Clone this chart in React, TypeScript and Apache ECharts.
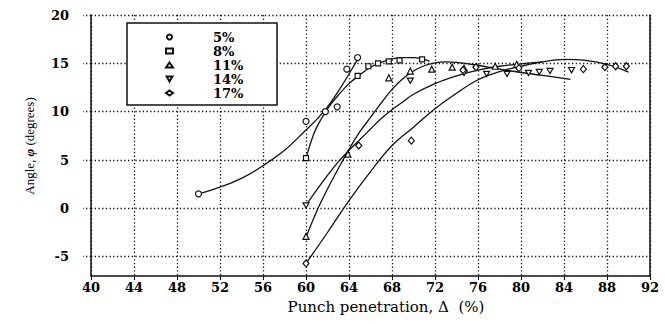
import React, { useEffect, useRef } from "react";
import * as echarts from "echarts";

const seriesNames = ["5%", "8%", "11%", "14%", "17%"];
const yTickValues = [-5, 0, 5, 10, 15, 20];

// measured points
const pts5 = [[50, 1.5], [60, 9.0], [61.8, 10.0], [62.9, 10.5], [63.8, 14.4], [64.8, 15.6]];
const pts8 = [[60, 5.2], [64.8, 13.7], [65.8, 14.7], [66.7, 15.0], [67.7, 15.2], [68.7, 15.3], [70.8, 15.4]];
const pts11 = [[60, -2.9], [63.9, 5.6], [67.7, 13.5], [69.7, 14.2], [71.7, 14.4], [73.6, 14.6], [74.7, 14.5], [77.6, 14.7], [79.6, 14.9]];
const pts14 = [[60, 0.3], [69.7, 13.2], [74.7, 14.0], [76.8, 13.9], [78.7, 13.9], [80.7, 14.0], [81.7, 14.1], [82.7, 14.2], [84.7, 14.3]];
const pts17 = [[60, -5.7], [64.9, 6.5], [69.8, 7.0], [74.6, 14.3], [75.8, 14.6], [79.8, 14.5], [85.8, 14.4], [87.8, 14.6], [88.8, 14.7], [89.8, 14.7]];

// fitted curves
const curve5 = [[50, 1.5], [52, 2.2], [54, 3.1], [56, 4.4], [58, 6.0], [60, 8.1], [61, 9.2], [62, 10.5], [63, 12.1], [64, 13.9], [64.8, 15.4]];
const curve8 = [[60, 5.2], [60.5, 7.0], [61, 8.4], [62, 10.3], [63, 11.7], [64, 12.9], [65, 13.8], [66, 14.6], [67, 15.1], [68, 15.45], [69, 15.6], [70, 15.6], [71, 15.4], [71.5, 15.2]];
const curve11 = [[60, -3.0], [61, -0.3], [62, 2.0], [63, 4.1], [64, 6.1], [65, 7.9], [66, 9.4], [67, 10.9], [68, 12.3], [69, 13.4], [70, 14.2], [71, 14.75], [72, 15.05], [73, 15.15], [74, 15.1], [76, 14.8], [78, 14.4], [80, 14.05], [82, 13.75], [84.6, 13.35]];
const curve14 = [[60, 0.3], [61, 1.9], [62, 3.4], [63, 4.8], [64, 6.0], [65, 7.1], [66, 8.2], [67, 9.3], [68, 10.2], [69, 11.0], [70, 11.8], [72, 12.9], [74, 13.7], [76, 14.3], [78, 14.7], [80, 14.95], [82, 15.15]];
const curve17 = [[60, -5.7], [62, -2.5], [64, 0.8], [66, 3.8], [68, 6.5], [70, 8.4], [72, 10.3], [74, 11.9], [76, 13.3], [78, 14.15], [80, 14.7], [82, 15.15], [84, 15.4], [86, 15.3], [88, 14.9], [90, 14.1]];

const symbols = ["circle", "rect", "triangle", "path://M0,0 L10,0 L5,8.66 Z", "diamond"];
const symbolSizes = [6, 5, 6, 6, [6, 7]];
const points = [pts5, pts8, pts11, pts14, pts17];
const curves = [curve5, curve8, curve11, curve14, curve17];

const FONT = "DejaVu Serif";

export default function App() {
  const ref = useRef<HTMLDivElement>(null);
  useEffect(() => {
    if (!ref.current) return;
    const chart = echarts.init(ref.current, undefined, { renderer: "svg" });
    const dotted = { color: "#111", width: 1.3, type: [1.3, 2.4] as any };
    const lineSeries = curves.map((c, i) => ({
      name: "curve" + seriesNames[i],
      type: "line",
      data: c,
      smooth: 0.4,
      showSymbol: false,
      symbol: "none",
      lineStyle: { color: "#111", width: 1.3 },
      z: 2,
      silent: true,
    }));
    const scatterSeries = points.map((p, i) => ({
      name: seriesNames[i],
      type: "scatter",
      data: p,
      symbol: symbols[i],
      symbolSize: symbolSizes[i],
      symbolKeepAspect: true,
      itemStyle: { color: "#fff", borderColor: "#111", borderWidth: 1.2, opacity: 1 },
      z: 3,
      silent: true,
    }));
    chart.setOption({
      animation: false,
      backgroundColor: "#fff",
      grid: { left: 91, right: 15, top: 15, bottom: 48, containLabel: false },
      xAxis: {
        type: "value",
        min: 40,
        max: 92,
        interval: 4,
        axisLine: { show: true, onZero: false, lineStyle: { color: "#111", width: 1.5 } },
        axisTick: { show: true, length: 4, lineStyle: { color: "#111", width: 1 } },
        axisLabel: { color: "#000", fontFamily: FONT, fontSize: 13, fontWeight: "bold", margin: 5 },
        splitLine: { show: true, lineStyle: dotted },
      },
      yAxis: [
        {
          type: "value",
          min: -7,
          max: 20,
          axisLine: { show: true, onZero: false, lineStyle: { color: "#111", width: 1.5 } },
          axisTick: { show: true, length: 8, customValues: yTickValues, lineStyle: dotted },
          axisLabel: { color: "#000", fontFamily: FONT, fontSize: 13, fontWeight: "bold", margin: 22, customValues: yTickValues },
          splitLine: { show: true, lineStyle: dotted },
        },
        {
          type: "value",
          position: "right",
          min: -7,
          max: 20,
          axisLine: { show: true, onZero: false, lineStyle: { color: "#111", width: 1.5 } },
          axisTick: { show: false },
          axisLabel: { show: false },
          splitLine: { show: false },
        },
      ],
      legend: {
        data: seriesNames,
        orient: "vertical",
        left: 165,
        top: 30,
        padding: 0,
        itemWidth: 7,
        itemHeight: 5,
        itemGap: 0,
        selectedMode: false,
        textStyle: { color: "#000", fontFamily: FONT, fontSize: 13, fontWeight: "bold", lineHeight: 14, padding: [0, 0, 0, 35] },
        z: 5,
      },
      graphic: [
        {
          type: "rect",
          z: 4,
          shape: { x: 127, y: 23, width: 150, height: 82 },
          style: { fill: "#fff", stroke: "#111", lineWidth: 1.5 },
          silent: true,
        },
        {
          type: "text",
          x: 386,
          y: 307,
          style: {
            text: "Punch penetration, \u0394  (%)",
            fill: "#000",
            font: `15px "${FONT}"`,
            align: "center",
            verticalAlign: "middle",
          },
        },
        {
          type: "text",
          x: 29,
          y: 146,
          rotation: Math.PI / 2,
          style: {
            text: "Angle, {p|\u03C6} (degrees)",
            rich: {
              p: { fontFamily: "Liberation Serif", fontSize: 13, fontWeight: "bold", fontStyle: "italic", fill: "#000" },
            },
            fill: "#000",
            font: `13px "Liberation Serif"`,
            align: "center",
            verticalAlign: "middle",
          },
        },
      ],
      series: [...lineSeries, ...scatterSeries],
    });
    return () => chart.dispose();
  }, []);
  return <div ref={ref} style={{ position: "absolute", left: 0, top: 0, width: 665, height: 324 }} />;
}
